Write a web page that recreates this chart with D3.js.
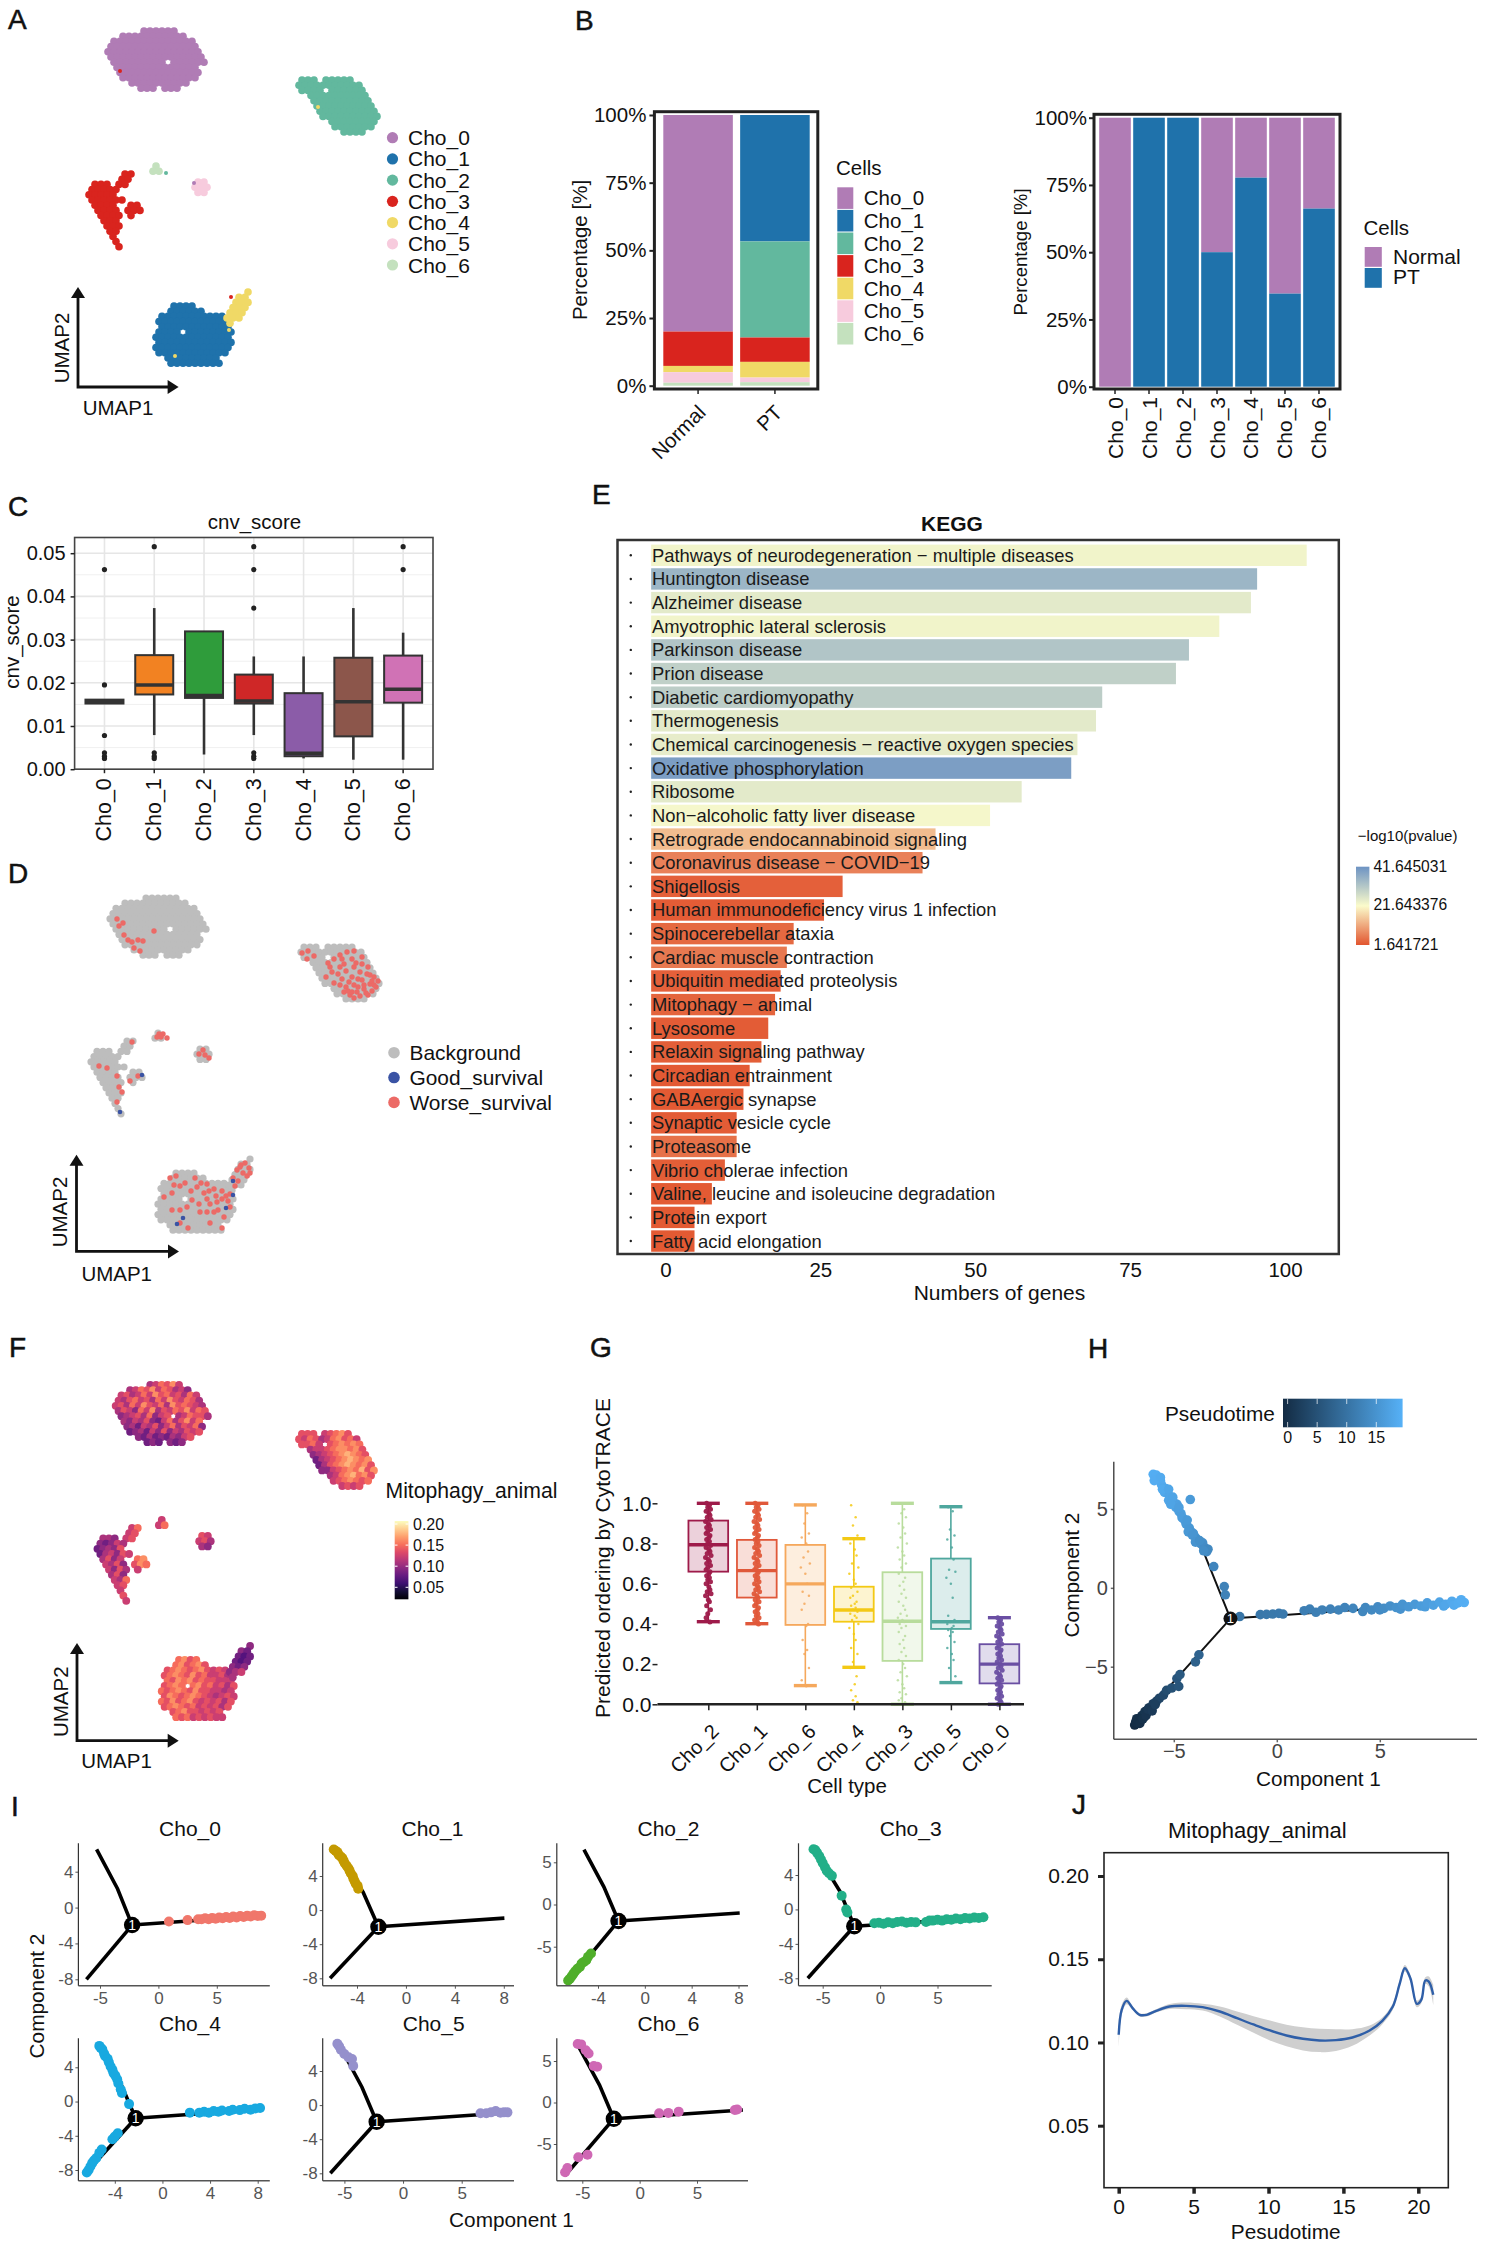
<!DOCTYPE html>
<html><head><meta charset="utf-8">
<script src="https://cdn.jsdelivr.net/npm/d3@7"></script>
<style>html,body{margin:0;padding:0;background:#fff}svg{display:block}text{font-family:"Liberation Sans",Arial,sans-serif}</style>
</head><body><svg id="c" width="1485" height="2245"></svg>
<script>
// ---------- DATA ----------
const clusterNames=["Cho_0","Cho_1","Cho_2","Cho_3","Cho_4","Cho_5","Cho_6"];
const clusterColors=["#B07CB5","#1F72AB","#62B89E","#D9241E","#F0D966","#F7CBDD","#C4E1BE"];
// UMAP cells: every digit is one cell, the digit is its Mitophagy_animal level
const umapC0=["      457685","  45768576453"," 56457586756475","546756475865764","5647586574867654","4653758465768576"," 345647356 457664"," 43546325746857","  34254635746573","  2342536354656","    3242324356","     232 323"];
const umapC2=[" 666 56786","65764578675"," 6675 678787","  4556788786","   3456789876","   2456789878","    2467898786","    3356787968","      45789786","      5678767","        5656"];
const umapC3=["      57","     56"," 443 56","32354","23436","245365"," 4635  78"," 5463 687","  5364 5","  463","   547","   56","    5","    6","     5"];
const umapC6=[" 5","57"];
const umapC5=[" 65","564"," 43"];
const umapC1=["   7867","  786786"," 67876786565","678768675564"," 768786766555","6787 78675646","7678768665545","6876787654565","7686786565646","678767565646","  678665656","  767565655"];
const umapC4=["    3","  32","  212"," 212"," 323","345"," 4"];
const umapOrigins=[[108,31],[156,306],[296,80],[89,174],[224,292],[192,182],[150,166]];
const umapStray=[[120,71,3],[318,107,4],[166,173,2],[194,183,0],[231,297,3],[229,330,4],[175,356,4]];
const worseSurvival=[[115,52],[121,56],[117,59],[122,68],[126,73],[130,75],[136,73],[141,74],[132,81],[138,84],[152,64],
[300,86],[306,84],[312,89],[305,92],[326,96],[332,92],[338,88],[345,85],[352,84],[360,90],[350,92],[342,97],[330,105],[324,110],[336,107],[344,104],[352,100],[360,97],[366,100],[332,116],[340,112],[350,110],[358,105],[365,107],[372,110],[344,120],[352,118],[360,113],[368,117],[374,120],[348,128],[355,125],[362,122],[370,124],[342,125],[358,129],[352,131],[366,128],[376,114],[347,115],[328,100],[338,100],[356,112],[362,118],[370,114],[338,118],[346,124],[364,126],[356,120],[368,108],[340,92],[354,96],[372,118],[350,125],
[97,199],[105,201],[115,209],[117,220],[120,225],[115,235],[130,175],[128,214],[136,209],[157,167],[161,167],[159,170],[155,170],[165,171],[197,187],[203,188],[207,191],[201,183],
[174,309],[168,311],[193,311],[199,316],[178,319],[189,324],[212,322],[220,324],[228,327],[205,332],[220,332],[197,337],[208,337],[228,340],[178,343],[170,343],[205,345],[216,343],[208,356],[220,361],[186,361],[178,356],[235,303],[241,306],[247,301],[239,298],[231,311],[245,309],[233,319],[224,329],[214,329],[207,324],[183,316],[172,318],[202,326],[215,335],[190,333],[185,340],[198,345],[226,334],[236,314],[238,300],[243,296],[248,306],[212,345],[222,350],[162,330],[195,320],[205,317],[170,326]];
const goodSurvival=[[140,208],[118,245],[231,314],[231,328],[224,341],[181,351],[175,357]];

const stackNormal=[80,0,0,12.7,2.3,3.9,1.1];
const stackPT=[0,46.7,35.5,9,5.8,1.7,1.3];
const stackCats=["Normal","PT"];
const ptShare=[0,100,100,50,77.7,34.6,66.2];
const percentTicks=[0,25,50,75,100];

const cnvQ3=[.0161,.0264,.0319,.0219,.0176,.0258,.0263];
const cnvMedian=[.0156,.0195,.0171,.0158,.0037,.0156,.0185];
const cnvQ1=[.0152,.0173,.0165,.0152,.003,.0076,.0154];
const cnvHigh=[.0161,.0373,.0319,.0261,.0261,.0373,.0316];
const cnvLow=[.0152,.0079,.0034,.0079,.0025,.0022,.0022];
const cnvOutliers=[[.0462,.0195,.0078,.0038,.003,.0025],[.0515,.0038,.003,.0025],[],[.0515,.0462,.0373,.0038,.003,.0025],[],[],[.0515,.0462]];
const cnvColors=["#1F77B4","#F28222","#2F9C3B","#CF2727","#8B5CA8","#8C564B","#D072B5"];

const keggTerms=["Pathways of neurodegeneration − multiple diseases","Huntington disease","Alzheimer disease","Amyotrophic lateral sclerosis","Parkinson disease","Prion disease","Diabetic cardiomyopathy","Thermogenesis","Chemical carcinogenesis − reactive oxygen species","Oxidative phosphorylation","Ribosome","Non−alcoholic fatty liver disease","Retrograde endocannabinoid signaling","Coronavirus disease − COVID−19","Shigellosis","Human immunodeficiency virus 1 infection","Spinocerebellar ataxia","Cardiac muscle contraction","Ubiquitin mediated proteolysis","Mitophagy − animal","Lysosome","Relaxin signaling pathway","Circadian entrainment","GABAergic synapse","Synaptic vesicle cycle","Proteasome","Vibrio cholerae infection","Valine, leucine and isoleucine degradation","Protein export","Fatty acid elongation"];
const keggGenes=[103.5,95.5,94.5,89.4,84.5,82.4,70.5,69.5,66.5,65.5,57.5,52.4,43.6,41.5,28.6,25.6,20.7,19.6,18.6,17.7,16.6,15.5,13.6,12.6,11.5,11.5,9.6,7.5,4.7,4.7];
const keggP=[23,35,25,23,32,30,30.5,25,24.5,39.5,25,22.5,14,7,3,2.5,4,6,3,3.5,2.5,2.8,2.3,2.2,2.5,5,2.7,2.2,2.2,2.2];
const keggTicks=[0,25,50,75,100];

const cytoCats=["Cho_2","Cho_1","Cho_6","Cho_4","Cho_3","Cho_5","Cho_0"];
const cytoColors=["#9E1B4A","#E0583A","#F5A85C","#F3C914","#B8DC9C","#4FA79E","#6A4FA3"];
const cytoQ3=[.914,.818,.793,.585,.657,.725,.299];
const cytoMedian=[.794,.665,.599,.469,.413,.411,.2];
const cytoQ1=[.66,.531,.395,.411,.216,.375,.104];
const cytoHigh=[1,1,.992,.824,1,.983,.431];
const cytoLow=[.411,.401,.093,.184,0,.108,0];
const cytoC2=[1,.99,.98,.97,.96,.95,.94,.93,.92,.91,.9,.89,.88,.87,.86,.85,.84,.83,.82,.81,.8,.79,.78,.77,.76,.75,.74,.73,.72,.71,.7,.69,.68,.67,.66,.65,.64,.63,.62,.61,.6,.585,.57,.56,.55,.54,.52,.51,.49,.47,.45,.43,.41];
const cytoC1=[1,.99,.98,.97,.96,.95,.94,.93,.92,.91,.9,.89,.88,.87,.86,.85,.84,.83,.82,.81,.8,.79,.78,.77,.76,.75,.74,.73,.72,.71,.7,.69,.68,.67,.66,.65,.64,.63,.62,.61,.6,.59,.58,.57,.56,.55,.54,.53,.52,.51,.5,.49,.48,.47,.46,.45,.44,.43,.42,.41,.4];
const cytoC6=[.99,.95,.9,.85,.83,.8,.76,.73,.7,.68,.65,.6,.56,.54,.5,.47,.4,.39,.32,.27,.25,.18,.12,.09];
const cytoC4=[.99,.93,.89,.84,.8,.77,.74,.7,.68,.65,.62,.6,.58,.56,.54,.53,.51,.5,.49,.48,.47,.46,.45,.44,.43,.42,.4,.38,.35,.32,.28,.25,.21,.18,.14,.1,.07,.04,.02,.01];
const cytoC3=[1,.97,.95,.93,.9,.88,.85,.83,.8,.78,.76,.74,.72,.7,.68,.65,.63,.61,.59,.57,.55,.53,.51,.49,.47,.45,.44,.43,.42,.41,.4,.39,.38,.36,.34,.32,.3,.28,.26,.24,.22,.2,.18,.16,.14,.12,.1,.08,.06,.05,.03,.02,.01,0];
const cytoC5=[.98,.96,.87,.84,.82,.78,.72,.67,.66,.63,.6,.53,.44,.42,.41,.4,.39,.38,.37,.36,.34,.31,.28,.25,.22,.18,.14,.11];
const cytoC0=[.43,.42,.41,.4,.39,.38,.37,.36,.35,.34,.33,.32,.31,.3,.29,.28,.27,.26,.25,.24,.23,.22,.21,.2,.19,.18,.17,.16,.15,.14,.13,.12,.11,.1,.09,.08,.07,.06,.05,.04,.03,.02,.01,0];
const jitterPx=[-3,2,-1,4,-4,1,3,-2,5,-5,0,2,-3,4,-1,-4,3,1];

// trajectory cells: component 1, component 2, pseudotime
const trajectory=[[-6.0,7.2,19.5],[-5.9,7.05,19.4],[-5.8,6.9,19.3],[-5.85,7.15,19.4],[-5.7,6.85,19.2],[-5.6,6.55,19],[-5.65,6.8,19],[-5.5,6.35,18.8],[-5.4,6.3,18.6],[-5.45,6.05,18.6],[-5.3,6.05,18.4],[-5.2,5.8,18.2],[-5.25,5.55,18.2],[-5.1,5.5,18],[-5,5.4,17.8],[-4.9,5.1,17.6],[-4.85,5.3,17.5],[-4.75,4.85,17.3],[-4.65,4.7,17.1],[-4.55,4.4,16.9],[-4.45,4.25,16.7],[-4.2,5.6,16.5],[-4.4,4.05,16.5],[-4.25,3.8,16.2],[-4.15,3.55,16],[-4.05,3.45,15.8],[-3.95,3.2,15.6],[-3.85,3.05,15.3],[-3.7,2.8,15],[-3.6,2.85,14.8],[-3.5,2.55,14.5],[-3.4,2.3,14.2],[-3.34,2.45,14],[-3.06,1.35,13.5],[-2.55,.08,13],[-2.5,-.44,13],
[-5.95,6.8,19.3],[-5.65,7,19.1],[-5.55,6.25,18.9],[-5.25,6.25,18.3],[-5.05,5.75,18],[-5.15,5.3,18],[-4.75,5.1,17.3],[-4.6,4.45,17],[-4.35,4.3,16.5],[-4.3,3.55,16.2],[-4.1,3.35,15.8],[-3.95,2.9,15.5],[-3.75,3,15],[-3.55,2.35,14.6],
[-6.9,-8.7,0],[-6.85,-8.5,.3],[-6.75,-8.6,.4],[-6.7,-8.3,.7],[-6.6,-8.4,.9],[-6.55,-8.1,1.1],[-6.45,-8.2,1.3],[-6.4,-7.85,1.6],[-6.3,-7.9,1.8],[-6.2,-7.6,2.2],[-6.1,-7.65,2.5],[-6,-7.35,2.9],[-5.85,-7.2,3.4],[-5.7,-7,3.9],[-5.5,-6.8,4.4],[-5.35,-6.5,5],[-5.1,-6.35,5.6],[-4.76,-6.25,6.2],[-4.85,-5.75,6.3],[-4.7,-5.5,6.8],[-3.95,-4.7,8],[-3.78,-4.25,8.4],
[-6.8,-8.3,.4],[-6.65,-8.6,.6],[-6.5,-8.3,1],[-6.35,-8.1,1.4],[-6.25,-7.7,2],[-6.05,-7.8,2.3],[-5.9,-7.4,3],
[-1.8,-1.82,11],[-.8,-1.7,11.4],[-.5,-1.68,11.5],[-.2,-1.66,11.6],[.1,-1.62,11.7],[.3,-1.66,11.8],[1.33,-1.45,12.4],[1.6,-1.35,12.5],[1.9,-1.55,12.6],[2.2,-1.4,12.7],[2.6,-1.35,12.9],[3,-1.4,13.1],[3.3,-1.25,13.2],[3.7,-1.3,13.4],[4.17,-1.5,13.7],[4.3,-1.25,13.8],[4.6,-1.4,14],[4.9,-1.2,14.2],[5,-1.4,14.4],[5.2,-1.3,14.6],[5.5,-1.15,14.9],[5.8,-1.25,15.3],[6,-1.35,15.4],[6.1,-1.05,15.7],[6.4,-1.2,16],[6.7,-1.05,16.4],[7,-1.15,16.8],[7.2,-1.2,17],[7.3,-.95,17.2],[7.6,-1.1,17.6],[7.9,-.9,18],[8.1,-1.15,18.2],[8.2,-1.05,18.4],[8.5,-.85,18.8],[8.6,-1.1,19],[8.8,-.95,19.2],[9.1,-.93,19.6],[8.95,-.75,19.4]];
const ptTicks=[0,5,10,15];

const facetLeft=[78.4,322.7,556.8,798.5,78.4,322.7,556.8];
const facetRight=[269.8,514,748,991.7,269.8,514,748];
const facetTitleX=[190,432.4,668.4,910.7,190,433.7,668.4];
const facetXVals=[[-5,0,5],[-4,0,4,8],[-4,0,4,8],[-5,0,5],[-4,0,4,8],[-5,0,5],[-5,0,5]];
const facetXPos=[[100,159.4,216.8],[357,406,455.4,503.8],[598,645.4,692,738.5],[822.7,880,937.5],[114.8,163.3,210.5,257.7],[344.4,403,461.7],[582.3,640.3,697]];
const facetYVals=[[4,0,-4,-8],[4,0,-4,-8],[5,0,-5],[4,0,-4,-8],[4,0,-4,-8],[4,0,-4,-8],[5,0,-5]];
const facetYPos=[[1871.7,1907.7,1943.3,1979.3],[1876,1910,1944.3,1978.3],[1862.3,1904.3,1946.7],[1875,1909.3,1943.3,1978.3],[2067.3,2101.7,2135.7,2170],[2071,2105,2139.3,2173.3],[2061,2102.7,2144]];
const treeNode=[-2.25,-1.95];
const treeBend=[-3.5,2.1];
const treeUp=[[-5.29,6.5],[-5.95,7.27],[-5.2,6.5],[-5.85,7.2],[-5.3,6.7],[-5.57,7.4],[-5.4,6.95]];
const treeDown=[[-6.16,-8],[-6.2,-8],[-6.6,-9.2],[-6.3,-8],[-6.4,-8.3],[-6.2,-8],[-6.5,-8.8]];
const treeRight=[[8.9,-.92],[8.05,-.94],[8.1,-1],[9.2,-.95],[8.4,-.9],[8.9,-.9],[9,-.9]];
const facetColors=["#F0776B","#C49A00","#4FAE2A","#22AF88","#18A9E0","#9590CC","#CF68B4"];
const facetC0=[[.9,-1.55],[2.5,-1.4],[3.4,-1.3],[3.7,-1.3],[4,-1.2],[4.3,-1.3],[4.6,-1.15],[4.9,-1.25],[5.2,-1.1],[5.5,-1.2],[5.8,-1.05],[6.1,-1.15],[6.4,-1],[6.7,-1.1],[7,-.95],[7.3,-1.05],[7.6,-.9],[7.9,-1],[8.2,-.85],[8.5,-.95],[8.8,-.9]];
const facetC1=[[-5.9,7.1],[-5.75,6.95],[-5.6,6.8],[-5.5,6.5],[-5.35,6.3],[-5.2,6.1],[-5.1,5.8],[-5,5.5],[-4.85,5.2],[-4.7,4.9],[-4.6,4.6],[-4.5,4.3],[-4.35,4],[-4.3,3.7],[-4.2,3.4],[-4.1,3.1],[-3.95,2.85],[-3.9,2.5]];
const facetC2=[[-6.55,-9],[-6.4,-8.8],[-6.25,-8.5],[-6.1,-8.2],[-5.95,-7.9],[-5.75,-7.6],[-5.55,-7.4],[-5.4,-7],[-5.2,-6.8],[-5,-6.6],[-4.85,-6.2],[-4.6,-5.8]];
const facetC3=[[-5.8,7],[-5.65,6.9],[-5.5,6.6],[-5.3,6.2],[-5.15,5.8],[-5,5.4],[-4.8,4.9],[-4.65,4.5],[-4.45,4.2],[-4.2,3.9],[-3.35,1.6],[-2.95,0],[-2.85,-.35],[-.5,-1.6],[-.1,-1.55],[.3,-1.65],[.7,-1.5],[1.1,-1.6],[1.5,-1.45],[1.9,-1.4],[2.3,-1.55],[2.7,-1.45],[3.1,-1.5],[4,-1.45],[4.3,-1.3],[4.6,-1.3],[5,-1.2],[5.4,-1.3],[5.8,-1.15],[6.2,-1.2],[6.6,-1.05],[7,-1.15],[7.4,-1],[7.8,-1.05],[8.2,-.95],[8.6,-1],[9,-.9]];
const facetC4=[[-5.3,6.5],[-5.2,6.3],[-5.05,6.1],[-4.9,5.6],[-4.8,5.3],[-4.6,5],[-4.5,4.6],[-4.35,4.1],[-4.2,3.7],[-4.1,3.3],[-3.95,3],[-3.8,2.6],[-3.7,2.1],[-3.5,1.4],[-3.4,1],[-2.8,-.3],[-6.35,-8.3],[-6.2,-8],[-6.05,-7.6],[-5.9,-7.2],[-5.75,-6.9],[-5.55,-6.6],[-5.3,-6],[-5.1,-5.6],[-4.2,-4.4],[-4,-4.1],[-3.75,-3.7],[2.3,-1.3],[3.1,-1.3],[3.5,-1.2],[3.9,-1.3],[4.3,-1.1],[4.7,-1.2],[5,-1.05],[5.6,-1.1],[5.9,-.95],[6.5,-1],[6.9,-.85],[7.4,-.95],[7.8,-.8],[8.2,-.75]];
const facetC5=[[-5.6,7.2],[-5.45,6.9],[-5.3,6.5],[-5,6],[-4.65,5.6],[-4.35,5.4],[-4.25,4.6],[6.6,-.95],[7.1,-.95],[7.5,-.85],[7.9,-.7],[8.3,-.9],[8.6,-.85],[8.9,-.85]];
const facetC6=[[-5.4,7.05],[-5.1,7],[-4.7,6.3],[-4.45,5.9],[-4,4.4],[-3.7,4.3],[-6.5,-8.4],[-6.3,-7.9],[-5.35,-6.6],[-4.55,-6.3],[1.7,-1.3],[2.5,-1.25],[3.4,-1.1],[8.3,-.9],[8.5,-.85]];
const facetPoints=[facetC0,facetC1,facetC2,facetC3,facetC4,facetC5,facetC6];

const smoothT=[0,.2,.53,.93,1.4,1.87,2.5,3.4,4.5,5.6,6.75,7.9,9,10.1,11.2,12.3,13.4,14.5,15.6,16.75,17.6,18.3,18.75,19.1,19.47,19.9,20.2,20.47,20.7,21];
const smoothV=[.1046,.1196,.125,.1206,.1166,.1166,.119,.1216,.122,.1212,.1186,.1146,.1108,.1072,.1042,.1022,.1012,.1014,.103,.1072,.113,.1216,.135,.1446,.1386,.1232,.1256,.1372,.1366,.1286];
const smoothSE=[.008,.003,.002,.001,.001,.001,.001,.0015,.002,.002,.003,.004,.005,.006,.0065,.007,.007,.0065,.005,.003,.002,.002,.002,.002,.002,.002,.002,.002,.003,.006];

// ---------- HELPERS ----------
const svg=d3.select("#c");
svg.append("rect").attr("width",1485).attr("height",2245).attr("fill","#fff");
const defs=svg.append("defs");
function T(g,x,y,s,o={}){return g.append("text").attr("transform",`translate(${x},${y}) rotate(${o.r||0})`)
 .attr("text-anchor",o.a||"middle").attr("dominant-baseline","central").attr("font-size",o.s||20)
 .attr("font-weight",o.w||"normal").attr("fill",o.f||"#111").text(s);}
function grad(id,stops,vertical=true){const lg=defs.append("linearGradient").attr("id",id).attr("x1",0).attr("y1",vertical?1:0).attr("x2",vertical?0:1).attr("y2",0);
 stops.forEach((c,i)=>lg.append("stop").attr("offset",i/(stops.length-1)).attr("stop-color",c));}
function style(g,{size=20,fill="#111",tick="#222",tw=1.5,domain=false}={}){
 g.selectAll("text").attr("font-size",size).attr("fill",fill).attr("font-family",'"Liberation Sans"');
 g.selectAll(".tick line").attr("stroke",tick).attr("stroke-width",tw);
 if(!domain)g.select(".domain").remove();}
const panelLetters=[["A",8,19],["B",575,20],["C",8,506],["D",8,873],["E",592,494],["F",9,1347],["G",590,1347],["H",1088,1348],["I",11,1806],["J",1072,1804]];
panelLetters.forEach(d=>T(svg,d[1],d[2],d[0],{a:"start",s:28,f:"#111"}).attr("stroke","#111").attr("stroke-width",.5));

// UMAP cells
const cellDX=6,cellDY=5.2;
const umapRows=[umapC0,umapC1,umapC2,umapC3,umapC4,umapC5,umapC6];
const umapCells=[];
umapRows.forEach((rows,c)=>rows.forEach((row,r)=>[...row].forEach((ch,k)=>{if(ch===" ")return;
 umapCells.push({x:umapOrigins[c][0]+k*cellDX+(r%2?cellDX/2:0),y:umapOrigins[c][1]+r*cellDY,c,level:+ch});})));
const magma=d3.scaleSequential(d3.interpolateMagma).domain([.02,.207]);
const levelScore=d=>.055+.0135*d;
function umapAxes(g,x0,y0,top,right,ux,uy,u2y){
 g.append("path").attr("d",`M${x0},${top+10}V${y0}H${right-10}`).attr("fill","none").attr("stroke","#111").attr("stroke-width",2.8);
 g.append("path").attr("d",`M${x0-7},${top+11}L${x0},${top}L${x0+7},${top+11}Z`).attr("fill","#111");
 g.append("path").attr("d",`M${right-11},${y0-7}L${right},${y0}L${right-11},${y0+7}Z`).attr("fill","#111");
 T(g,ux,uy,"UMAP1",{s:20.5});T(g,x0-17,u2y,"UMAP2",{s:20.5,r:-90});
}
// Panel A
{const g=svg.append("g");const x=d3.scaleLinear([0,500],[0,500]),y=d3.scaleLinear([0,500],[0,500]);
 g.selectAll("circle.a").data(umapCells).join("circle").attr("cx",d=>x(d.x)).attr("cy",d=>y(d.y)).attr("r",3.8).attr("fill",d=>clusterColors[d.c]);
 g.selectAll("circle.s").data(umapStray).join("circle").attr("cx",d=>x(d[0])).attr("cy",d=>y(d[1])).attr("r",2).attr("fill",d=>clusterColors[d[2]]);
 umapAxes(g,78,387,287,178.6,118,407,348);
 const ly=d3.scaleLinear([0,6],[137.7,265]);
 clusterNames.forEach((n,i)=>{g.append("circle").attr("cx",392.5).attr("cy",ly(i)).attr("r",5.6).attr("fill",clusterColors[i]);T(g,408,ly(i),n,{a:"start",s:21});});
}
// Panel B left
{const g=svg.append("g");
 const x=d3.scaleBand(stackCats,[661,812]).paddingInner(.095).paddingOuter(.03);
 const y=d3.scaleLinear([0,100],[385.7,115]);
 [stackNormal,stackPT].forEach((vals,j)=>{let top=100;vals.forEach((v,i)=>{if(v>0)g.append("rect").attr("x",x(stackCats[j])).attr("width",x.bandwidth()).attr("y",y(top)).attr("height",y(top-v)-y(top)).attr("fill",clusterColors[i]);top-=v;});});
 g.append("rect").attr("x",654.4).attr("y",111.7).attr("width",163.4).attr("height",277.3).attr("fill","none").attr("stroke","#222").attr("stroke-width",3);
 const ya=g.append("g").attr("transform","translate(654.4,0)").call(d3.axisLeft(y).tickValues(percentTicks).tickFormat(d=>d+"%").tickSize(5).tickPadding(3));style(ya,{size:20.5,tw:2});
 const xa=g.append("g").attr("transform","translate(0,389)").call(d3.axisBottom(x).tickSize(5));style(xa,{size:20.5,tw:1.5});
 xa.selectAll("text").attr("text-anchor","end").attr("transform","translate(-7,9) rotate(-45)").attr("dy","0.7em");
 T(g,579,250,"Percentage [%]",{r:-90,s:20.5});
 T(g,836,167,"Cells",{a:"start",s:20.5});
 const ly=d3.scaleLinear([0,7],[187.3,345.5]);
 clusterNames.forEach((n,i)=>{g.append("rect").attr("x",837.3).attr("y",ly(i)).attr("width",16).attr("height",ly(1)-ly(0)-1).attr("fill",clusterColors[i]);T(g,863.8,ly(i)+10.5,n,{a:"start",s:20.5});});
}
// Panel B right
{const g=svg.append("g");
 const x=d3.scaleBand(clusterNames,[1097.5,1336.5]).paddingInner(.07).paddingOuter(.05);
 const y=d3.scaleLinear([0,100],[386.7,117.7]);
 clusterNames.forEach((n,i)=>{
  g.append("rect").attr("x",x(n)).attr("width",x.bandwidth()).attr("y",y(100)).attr("height",y(ptShare[i])-y(100)).attr("fill",clusterColors[0]);
  g.append("rect").attr("x",x(n)).attr("width",x.bandwidth()).attr("y",y(ptShare[i])).attr("height",y(0)-y(ptShare[i])).attr("fill",clusterColors[1]);});
 g.append("rect").attr("x",1094).attr("y",114.3).attr("width",246).attr("height",274.7).attr("fill","none").attr("stroke","#222").attr("stroke-width",3);
 const ya=g.append("g").attr("transform","translate(1094,0)").call(d3.axisLeft(y).tickValues(percentTicks).tickFormat(d=>d+"%").tickSize(5).tickPadding(2));style(ya,{size:20.5,tw:2});
 const xa=g.append("g").attr("transform","translate(0,389)").call(d3.axisBottom(x).tickSize(5));style(xa,{size:21});
 xa.selectAll("text").attr("text-anchor","end").attr("dominant-baseline","central").attr("dy",0).attr("transform","translate(0,8) rotate(-90)").attr("y",0);
 T(g,1020,252,"Percentage [%]",{r:-90,s:18.6});
 T(g,1363.5,227,"Cells",{a:"start",s:20.5});
 ["Normal","PT"].forEach((n,i)=>{g.append("rect").attr("x",1364.7).attr("y",247+21*i).attr("width",17.1).attr("height",19.8).attr("fill",clusterColors[i]);T(g,1393,256.5+20*i,n,{a:"start",s:21});});
}
// Panel C
{const g=svg.append("g");
 const x=d3.scaleBand(clusterNames,[74.6,433]).paddingInner(0).paddingOuter(.1);
 const y=d3.scaleLinear([0,.05],[769.2,553.2]);
 const band=x.bandwidth();
 d3.range(0,.055,.005).forEach(v=>g.append("line").attr("x1",74.6).attr("x2",433).attr("y1",y(v)).attr("y2",y(v)).attr("stroke",Math.round(v*1000)%10?"#F0F0F0":"#E6E6E6").attr("stroke-width",Math.round(v*1000)%10?1:1.6));
 clusterNames.forEach(n=>g.append("line").attr("x1",x(n)+band/2).attr("x2",x(n)+band/2).attr("y1",537.5).attr("y2",769.2).attr("stroke","#E6E6E6").attr("stroke-width",1.6));
 clusterNames.forEach((n,i)=>{const cx=x(n)+band/2,w=38;
  g.append("line").attr("x1",cx).attr("x2",cx).attr("y1",y(cnvHigh[i])).attr("y2",y(cnvLow[i])).attr("stroke","#333").attr("stroke-width",2.6);
  g.append("rect").attr("x",cx-w/2).attr("width",w).attr("y",y(cnvQ3[i])).attr("height",y(cnvQ1[i])-y(cnvQ3[i])).attr("fill",cnvColors[i]).attr("stroke","#333").attr("stroke-width",2);
  g.append("line").attr("x1",cx-w/2).attr("x2",cx+w/2).attr("y1",y(cnvMedian[i])).attr("y2",y(cnvMedian[i])).attr("stroke","#333").attr("stroke-width",3.4);
  g.selectAll(null).data(cnvOutliers[i]).join("circle").attr("cx",cx).attr("cy",d=>y(d)).attr("r",2.6).attr("fill","#222");
 });
 g.append("rect").attr("x",74.6).attr("y",537.5).attr("width",358.4).attr("height",231.7).attr("fill","none").attr("stroke","#444").attr("stroke-width",1.6);
 const ya=g.append("g").attr("transform","translate(74.6,0)").call(d3.axisLeft(y).ticks(6).tickFormat(d3.format(".2f")).tickSize(4).tickPadding(5));style(ya,{size:20});
 const xa=g.append("g").attr("transform","translate(0,769.2)").call(d3.axisBottom(x).tickSize(4));style(xa,{size:21.5});
 xa.selectAll("text").attr("text-anchor","end").attr("dominant-baseline","central").attr("dy",0).attr("y",0).attr("transform","translate(0,9) rotate(-90)");
 T(g,254.5,521,"cnv_score",{s:20.5});T(g,11.5,642,"cnv_score",{r:-90,s:20.5});
}
// Panel D
{const g=svg.append("g");const x=d3.scaleLinear([0,500],[2,502]),y=d3.scaleLinear([0,500],[867,1367]);
 g.selectAll("circle.b").data(umapCells).join("circle").attr("cx",d=>x(d.x)).attr("cy",d=>y(d.y)).attr("r",3.6).attr("fill","#BDBDBD");
 g.selectAll("circle.w").data(worseSurvival).join("circle").attr("cx",d=>x(d[0])).attr("cy",d=>y(d[1])).attr("r",2.7).attr("fill","#EC6A66");
 g.selectAll("circle.g").data(goodSurvival).join("circle").attr("cx",d=>x(d[0])).attr("cy",d=>y(d[1])).attr("r",2.3).attr("fill","#3A53A4");
 umapAxes(g,76.5,1251.4,1154.7,179,116.7,1273.4,1212);
 [["Background","#BDBDBD"],["Good_survival","#3A53A4"],["Worse_survival","#EC6A66"]].forEach((d,i)=>{const yy=1052.7+24.85*i;
  g.append("circle").attr("cx",394).attr("cy",yy).attr("r",5.8).attr("fill",d[1]);T(g,409.5,yy,d[0],{a:"start",s:20.9});});
}
// Panel E
{const g=svg.append("g");
 const x=d3.scaleLinear([0,100],[665.4,1285]);
 const y=d3.scaleBand(keggTerms,[542.35,1254]).padding(.095);
 const col=d3.scaleLinear([1.641721,21.643376,41.645031],["#E2552F","#FBFBCB","#6D93C3"]);
 const base=-2.3;
 g.selectAll("rect.bar").data(keggTerms).join("rect").attr("x",x(base)).attr("y",d=>y(d)).attr("height",y.bandwidth()).attr("width",(d,i)=>x(keggGenes[i])-x(base)).attr("fill",(d,i)=>col(keggP[i]));
 keggTerms.forEach(t=>{const cy=y(t)+y.bandwidth()/2;
  g.append("circle").attr("cx",630.8).attr("cy",cy).attr("r",1.2).attr("fill","#222");
  T(g,652,cy,t,{a:"start",s:18.4,f:"#1a1a1a"});});
 g.append("rect").attr("x",617.5).attr("y",540).attr("width",721.3).attr("height",714).attr("fill","none").attr("stroke","#333").attr("stroke-width",2.5);
 const xa=g.append("g").attr("transform","translate(0,1254)").call(d3.axisBottom(x).tickValues(keggTicks).tickSize(0).tickPadding(8));style(xa,{size:20.5});
 T(g,952,523,"KEGG",{s:21,w:"bold"});T(g,999.5,1292.5,"Numbers of genes",{s:21});
 T(g,1357.8,835.6,"−log10(pvalue)",{a:"start",s:15});
 grad("kg",["#E2552F","#FBFBCB","#6D93C3"]);
 g.append("rect").attr("x",1356).attr("y",866.7).attr("width",13.4).attr("height",78.3).attr("fill","url(#kg)");
 [[41.645031,866],[21.643376,904.7],[1.641721,944.4]].forEach(d=>T(g,1373.4,d[1],d3.format(".6f")(d[0]),{a:"start",s:15.6}));
}
// Panel F
{const g=svg.append("g");const x=d3.scaleLinear([0,500],[12,492]),y=d3.scaleLinear([0,500],[1354,1854]);
 g.selectAll("circle.f").data(umapCells).join("circle").attr("cx",d=>x(d.x)).attr("cy",d=>y(d.y)).attr("r",3.9).attr("fill",d=>magma(levelScore(d.level)));
 umapAxes(g,77,1740.7,1643,178.7,116.5,1760.7,1701.7);
 T(g,385.5,1490,"Mitophagy_animal",{a:"start",s:21.2});
 grad("mg",d3.range(0,1.01,.1).map(d3.interpolateMagma));
 g.append("rect").attr("x",394.7).attr("y",1521).attr("width",13.7).attr("height",78.3).attr("fill","url(#mg)");
 const by=d3.scaleLinear([.05,.2],[1587.3,1524]);
 [.2,.15,.1,.05].forEach(v=>{T(g,413,by(v),v.toFixed(2),{a:"start",s:16});
  g.append("line").attr("x1",394.7).attr("x2",397.5).attr("y1",by(v)).attr("y2",by(v)).attr("stroke","#fff");g.append("line").attr("x1",405.6).attr("x2",408.4).attr("y1",by(v)).attr("y2",by(v)).attr("stroke","#fff");});
}
// Panel G
{const g=svg.append("g");
 const x=d3.scalePoint(cytoCats,[708.3,999.4]);
 const y=d3.scaleLinear([0,1],[1704.3,1503.3]);
 const jitter=[cytoC2,cytoC1,cytoC6,cytoC4,cytoC3,cytoC5,cytoC0];
 const dense=[1,1,0,0,0,0,1];
 cytoCats.forEach((n,i)=>{const cx=x(n),w=39.7,col=cytoColors[i],capW=23;
  g.append("rect").attr("x",cx-w/2).attr("width",w).attr("y",y(cytoQ3[i])).attr("height",y(cytoQ1[i])-y(cytoQ3[i])).attr("fill",col).attr("fill-opacity",.2).attr("stroke",col).attr("stroke-width",1.8);
  g.append("line").attr("x1",cx).attr("x2",cx).attr("y1",y(cytoHigh[i])).attr("y2",y(cytoQ3[i])).attr("stroke",col).attr("stroke-width",1.6);
  g.append("line").attr("x1",cx).attr("x2",cx).attr("y1",y(cytoQ1[i])).attr("y2",y(cytoLow[i])).attr("stroke",col).attr("stroke-width",1.6);
  [cytoHigh[i],cytoLow[i]].forEach(v=>g.append("line").attr("x1",cx-capW/2).attr("x2",cx+capW/2).attr("y1",y(v)).attr("y2",y(v)).attr("stroke",col).attr("stroke-width",3.4));
  g.append("line").attr("x1",cx-w/2).attr("x2",cx+w/2).attr("y1",y(cytoMedian[i])).attr("y2",y(cytoMedian[i])).attr("stroke",col).attr("stroke-width",3.4);
  g.selectAll(null).data(jitter[i]).join("circle").attr("cx",(d,k)=>cx+jitterPx[k%jitterPx.length]*(dense[i]?.55:.9)).attr("cy",d=>y(d)).attr("r",dense[i]?2.5:1.25).attr("fill",col).attr("fill-opacity",dense[i]?.95:.85);
 });
 const ya=g.append("g").attr("transform","translate(657.5,0)").call(d3.axisLeft(y).ticks(5).tickFormat(d3.format(".1f")).tickSize(5).tickPadding(1));style(ya,{size:21,tw:1.5});
 const xa=g.append("g").attr("transform","translate(0,1704.3)").call(d3.axisBottom(x).tickSize(6));style(xa,{size:20});
 g.append("line").attr("x1",657.5).attr("x2",1024).attr("y1",1704.3).attr("y2",1704.3).attr("stroke","#222").attr("stroke-width",2.6);
 xa.selectAll("text").attr("text-anchor","end").attr("transform","translate(-5,12) rotate(-45)").attr("dy","0.7em");
 T(g,847,1785,"Cell type",{s:20.5});T(g,602,1558,"Predicted ordering by CytoTRACE",{r:-90,s:21});
}
// Panel H
{const g=svg.append("g");
 const x=d3.scaleLinear([-5,5],[1173.8,1379.8]),y=d3.scaleLinear([-5,5],[1666.7,1509]);
 const pt=d3.scaleLinear([0,20],["#132B43","#56B1F7"]);
 const n=treeNode,branch=d3.line().x(d=>x(d[0])).y(d=>y(d[1]));
 [[n,treeBend,[-6,7.2]],[n,[-6.9,-8.7]],[n,[9.1,-.93]]].forEach(p=>g.append("path").attr("d",branch(p)).attr("fill","none").attr("stroke","#111").attr("stroke-width",2));
 g.selectAll("circle.t").data(trajectory).join("circle").attr("cx",d=>x(d[0])).attr("cy",d=>y(d[1])).attr("r",4.8).attr("fill",d=>pt(d[2]));
 g.append("circle").attr("cx",x(n[0])).attr("cy",y(n[1])).attr("r",7).attr("fill","#111");
 T(g,x(n[0]),y(n[1]),"1",{f:"#fff",s:13});
 const xa=g.append("g").attr("transform","translate(0,1739.3)").call(d3.axisBottom(x).tickValues([-5,0,5]).tickSize(3).tickPadding(2));style(xa,{size:20,fill:"#444",tick:"#666"});
 const ya=g.append("g").attr("transform","translate(1113.8,0)").call(d3.axisLeft(y).tickValues([-5,0,5]).tickSize(3).tickPadding(3));style(ya,{size:20,fill:"#444",tick:"#666"});
 g.append("line").attr("x1",1113.8).attr("x2",1477).attr("y1",1739.3).attr("y2",1739.3).attr("stroke","#555").attr("stroke-width",1.6);
 g.append("line").attr("x1",1113.8).attr("x2",1113.8).attr("y1",1461.7).attr("y2",1739.3).attr("stroke","#333").attr("stroke-width",1.3);
 T(g,1318.5,1778,"Component 1",{s:20.8});T(g,1071.7,1575,"Component 2",{r:-90,s:20.8});
 T(g,1165,1413,"Pseudotime",{a:"start",s:20.8});
 grad("pg",["#132B43","#56B1F7"],false);
 g.append("rect").attr("x",1283).attr("y",1398.7).attr("width",119.6).attr("height",28.6).attr("fill","url(#pg)");
 const bx=d3.scaleLinear([0,15],[1287.6,1376.3]);
 ptTicks.forEach(v=>{T(g,bx(v),1437,v,{s:16});g.append("line").attr("x1",bx(v)).attr("x2",bx(v)).attr("y1",1398.7).attr("y2",1404).attr("stroke","#fff").attr("stroke-opacity",.7);g.append("line").attr("x1",bx(v)).attr("x2",bx(v)).attr("y1",1422).attr("y2",1427.3).attr("stroke","#fff").attr("stroke-opacity",.7);});
}
// Panel I
clusterNames.forEach((name,i)=>{const g=svg.append("g");
 const row=i<4?0:1,bottom=row?2180.7:1985.7,top=row?2038.3:1843.3;
 const xv=facetXVals[i],xp=facetXPos[i],yv=facetYVals[i],yp=facetYPos[i];
 const x=d3.scaleLinear([xv[0],xv[xv.length-1]],[xp[0],xp[xp.length-1]]);
 const y=d3.scaleLinear([yv[0],yv[yv.length-1]],[yp[0],yp[yp.length-1]]);
 const branch=d3.line().x(d=>x(d[0])).y(d=>y(d[1]));
 [[treeNode,treeBend,treeUp[i]],[treeNode,treeDown[i]],[treeNode,treeRight[i]]].forEach(p=>g.append("path").attr("d",branch(p)).attr("fill","none").attr("stroke","#000").attr("stroke-width",3.6));
 g.selectAll("circle.p").data(facetPoints[i]).join("circle").attr("cx",d=>x(d[0])).attr("cy",d=>y(d[1])).attr("r",5).attr("fill",facetColors[i]);
 g.append("circle").attr("cx",x(treeNode[0])).attr("cy",y(treeNode[1])).attr("r",8.2).attr("fill","#000");
 T(g,x(treeNode[0]),y(treeNode[1]),"1",{f:"#fff",s:14});
 const xa=g.append("g").attr("transform",`translate(0,${bottom})`).call(d3.axisBottom(x).tickValues(xv).tickFormat(d=>String(d)).tickSize(3).tickPadding(3));style(xa,{size:17,fill:"#555",tick:"#555",tw:1});
 const ya=g.append("g").attr("transform",`translate(${facetLeft[i]},0)`).call(d3.axisLeft(y).tickValues(yv).tickFormat(d=>String(d)).tickSize(3).tickPadding(2));style(ya,{size:17,fill:"#555",tick:"#555",tw:1});
 g.append("line").attr("x1",facetLeft[i]).attr("x2",facetRight[i]).attr("y1",bottom).attr("y2",bottom).attr("stroke","#555").attr("stroke-width",1.6);
 g.append("line").attr("x1",facetLeft[i]).attr("x2",facetLeft[i]).attr("y1",top).attr("y2",bottom).attr("stroke","#333").attr("stroke-width",1.2);
 T(g,facetTitleX[i],row?2023:1828,name,{s:21});
});
T(svg,36.4,1996,"Component 2",{r:-90,s:20.8});T(svg,511.5,2219,"Component 1",{s:20.8});
// Panel J
{const g=svg.append("g");
 const x=d3.scaleLinear([0,20],[1118.7,1418.3]),y=d3.scaleLinear([.05,.2],[2125.7,1876]);
 const area=d3.area().x((d,i)=>x(smoothT[i])).y0((d,i)=>y(smoothV[i]-smoothSE[i])).y1((d,i)=>y(smoothV[i]+smoothSE[i])).curve(d3.curveCatmullRom);
 const line=d3.line().x((d,i)=>x(smoothT[i])).y(d=>y(d)).curve(d3.curveCatmullRom);
 g.append("path").attr("d",area(smoothV)).attr("fill","#CFCFCF");
 g.append("path").attr("d",line(smoothV)).attr("fill","none").attr("stroke","#2F5FA8").attr("stroke-width",2.4);
 g.append("rect").attr("x",1104).attr("y",1852.7).attr("width",344.3).attr("height",335).attr("fill","none").attr("stroke","#222").attr("stroke-width",1.6);
 const ya=g.append("g").attr("transform","translate(1104,0)").call(d3.axisLeft(y).tickValues([.05,.1,.15,.2]).tickFormat(d3.format(".2f")).tickSize(6).tickPadding(9));style(ya,{size:21,tw:3});
 const xa=g.append("g").attr("transform","translate(0,2187.7)").call(d3.axisBottom(x).tickValues([0,5,10,15,20]).tickSize(6).tickPadding(5));style(xa,{size:21,tw:3.5});
 T(g,1257.3,1830,"Mitophagy_animal",{s:22});T(g,1285.7,2231.7,"Pesudotime",{s:20.8});
}
</script></body></html>
